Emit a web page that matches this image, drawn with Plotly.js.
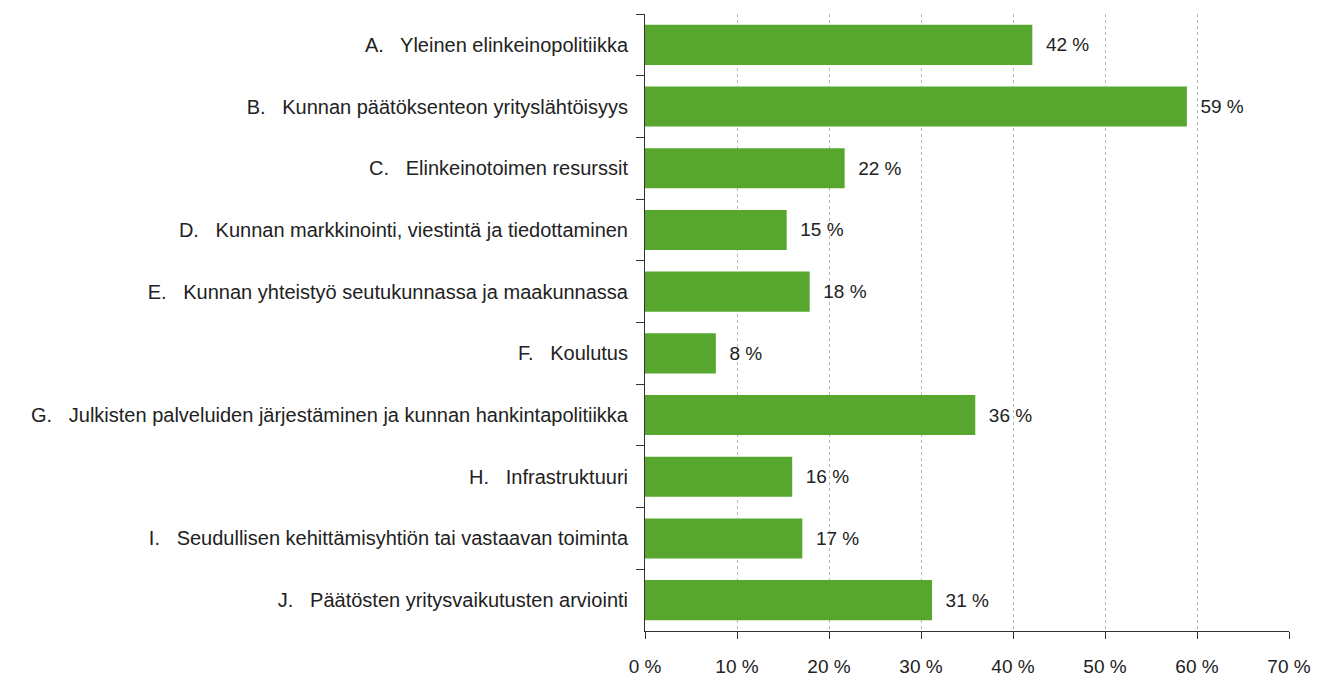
<!DOCTYPE html>
<html><head><meta charset="utf-8">
<script src="https://cdn.plot.ly/plotly-3.0.1.min.js"></script>
<style>body{margin:0;background:#fff}#c{width:1327px;height:682px}</style>
</head><body><div id="c"></div>
<script>
const categories = [
  "A.   Yleinen elinkeinopolitiikka",
  "B.   Kunnan päätöksenteon yrityslähtöisyys",
  "C.   Elinkeinotoimen resurssit",
  "D.   Kunnan markkinointi, viestintä ja tiedottaminen",
  "E.   Kunnan yhteistyö seutukunnassa ja maakunnassa",
  "F.   Koulutus",
  "G.   Julkisten palveluiden järjestäminen ja kunnan hankintapolitiikka",
  "H.   Infrastruktuuri",
  "I.   Seudullisen kehittämisyhtiön tai vastaavan toiminta",
  "J.   Päätösten yritysvaikutusten arviointi"
];
const values = [42.1, 58.9, 21.7, 15.4, 17.9, 7.7, 35.9, 16.0, 17.1, 31.2];
const valueLabels = ["42 %","59 %","22 %","15 %","18 %","8 %","36 %","16 %","17 %","31 %"];
const xTicks = [0,10,20,30,40,50,60,70];
const xTickText = ["0 %","10 %","20 %","30 %","40 %","50 %","60 %","70 %"];

const font = "Liberation Sans, Arial, sans-serif";

Plotly.newPlot("c", [{
  type: "bar",
  orientation: "h",
  y: categories,
  x: values,
  marker: {color: "#57a72e"},
  text: valueLabels.map(t => "  " + t),
  textposition: "outside",
  cliponaxis: false,
  textfont: {family: font, size: 19, color: "#222"},
  hoverinfo: "none"
}], {
  width: 1327, height: 682,
  margin: {l: 645, r: 38, t: 14, b: 51},
  paper_bgcolor: "#fff", plot_bgcolor: "#fff",
  bargap: 0.35,
  showlegend: false,
  font: {family: font, size: 20, color: "#222"},
  xaxis: {
    range: [0, 70], tickvals: xTicks, ticktext: xTickText,
    tickfont: {size: 19},
    showgrid: true, gridcolor: "#b8b8b8", griddash: "dot", gridwidth: 1,
    zeroline: false, showline: true, linecolor: "#333", linewidth: 1,
    ticks: "outside", ticklen: 7, tickcolor: "#333",
    ticklabelstandoff: 11, fixedrange: true
  },
  yaxis: {
    autorange: "reversed", type: "category",
    showline: true, linecolor: "#333", linewidth: 1,
    ticks: "outside", ticklen: 8, tickcolor: "#333", tickson: "boundaries",
    ticklabelstandoff: 12, showgrid: false, fixedrange: true
  }
}, {staticPlot: true});
</script></body></html>
